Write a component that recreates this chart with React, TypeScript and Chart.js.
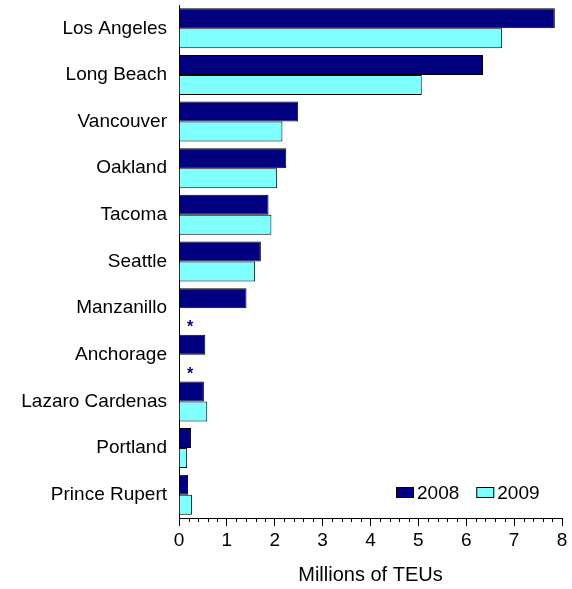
import React, { useEffect, useRef } from "react";
import { Chart, registerables } from "chart.js";

Chart.register(...registerables);

// Container traffic by port, millions of TEUs
const ports = [
  "Los Angeles",
  "Long Beach",
  "Vancouver",
  "Oakland",
  "Tacoma",
  "Seattle",
  "Manzanillo",
  "Anchorage",
  "Lazaro Cardenas",
  "Portland",
  "Prince Rupert",
];
const teu2008 = [7.85, 6.35, 2.49, 2.24, 1.87, 1.71, 1.41, 0.55, 0.52, 0.25, 0.19];
// null = no 2009 figure reported (marked with an asterisk)
const teu2009 = [6.75, 5.07, 2.16, 2.05, 1.93, 1.59, null, null, 0.59, 0.17, 0.27];
const seriesLabels = ["2008", "2009"];
const xTicks = [0, 1, 2, 3, 4, 5, 6, 7, 8];

const NAVY = "#000080";
const CYAN = "#80FFFF";
const FONT = "'Liberation Sans', Arial, sans-serif";

// short minor ticks between the labelled ones on the value axis
const minorTicks = {
  id: "minorTicks",
  afterDraw(chart: any) {
    const x = chart.scales.x;
    const ctx = chart.ctx;
    ctx.save();
    ctx.strokeStyle = "#000";
    ctx.lineWidth = 1;
    for (let i = 0; i <= 40; i++) {
      if (i % 5 === 0) continue;
      const px = Math.round(x.getPixelForValue(i / 5)) + 0.5;
      ctx.beginPath();
      ctx.moveTo(px, x.top);
      ctx.lineTo(px, x.top + 4);
      ctx.stroke();
    }
    ctx.restore();
  },
};

// asterisk where a series has no value
const missingMarks = {
  id: "missingMarks",
  afterDatasetsDraw(chart: any) {
    const ctx = chart.ctx;
    const x = chart.scales.x;
    const y = chart.scales.y;
    ctx.save();
    ctx.fillStyle = NAVY;
    ctx.font = `bold 16px ${FONT}`;
    ctx.textAlign = "center";
    ctx.textBaseline = "alphabetic";
    chart.data.datasets.forEach((ds: any, di: number) => {
      const meta = chart.getDatasetMeta(di);
      ds.data.forEach((v: any, i: number) => {
        if (v !== null) return;
        const el = meta.data[i];
        const cy = el && isFinite(el.y) ? el.y : y.getPixelForValue(i);
        ctx.fillText("*", x.getPixelForValue(0) + 11, cy + 14);
      });
    });
    ctx.restore();
  },
};

// legend drawn in the lower right of the plot area
const insideLegend = {
  id: "insideLegend",
  afterDraw(chart: any) {
    const ctx = chart.ctx;
    const area = chart.chartArea;
    ctx.save();
    ctx.font = `19px ${FONT}`;
    ctx.textBaseline = "alphabetic";
    ctx.textAlign = "left";
    let px = area.left + 217;
    const boxTop = area.bottom - 31;
    chart.data.datasets.forEach((ds: any) => {
      ctx.fillStyle = ds.backgroundColor;
      ctx.fillRect(px, boxTop, 18, 11);
      ctx.strokeStyle = "#000";
      ctx.lineWidth = 1;
      ctx.strokeRect(px + 0.5, boxTop + 0.5, 17, 10);
      ctx.fillStyle = "#000";
      ctx.fillText(ds.label, px + 21, boxTop + 12);
      px += 21 + ctx.measureText(ds.label).width + 17;
    });
    ctx.restore();
  },
};

export default function App() {
  const canvasRef = useRef<HTMLCanvasElement>(null);

  useEffect(() => {
    const canvas = canvasRef.current;
    if (!canvas) return;
    const chart = new Chart(canvas, {
      type: "bar",
      data: {
        labels: ports,
        datasets: [
          {
            label: seriesLabels[0],
            data: teu2008,
            backgroundColor: NAVY,
            borderColor: "#000",
            borderWidth: 1,
            categoryPercentage: 0.858,
            barPercentage: 1,
          },
          {
            label: seriesLabels[1],
            data: teu2009,
            backgroundColor: CYAN,
            borderColor: "#000",
            borderWidth: 1,
            categoryPercentage: 0.858,
            barPercentage: 1,
          },
        ],
      },
      options: {
        indexAxis: "y",
        responsive: false,
        animation: false,
        devicePixelRatio: 1,
        layout: { padding: { top: 5, right: 10, left: 0, bottom: 0 } },
        plugins: {
          legend: { display: false },
          tooltip: { enabled: false },
        },
        scales: {
          x: {
            min: 0,
            max: 8,
            afterBuildTicks(scale: any) {
              scale.ticks = xTicks.map((v) => ({ value: v }));
            },
            afterFit(scale: any) {
              scale.height = 71;
              scale.paddingLeft = 0;
              scale.paddingRight = 0;
            },
            ticks: {
              color: "#000",
              font: { family: FONT, size: 19 },
              padding: 3,
              maxRotation: 0,
            },
            grid: {
              display: true,
              drawOnChartArea: false,
              drawTicks: true,
              tickLength: 8,
              color: "#000",
            },
            border: { display: true, color: "#000", width: 1 },
            title: {
              display: true,
              text: "Millions of TEUs",
              color: "#000",
              font: { family: FONT, size: 20 },
              padding: { top: 0, bottom: 2 },
            },
          },
          y: {
            afterFit(scale: any) {
              scale.width = 179;
              scale.paddingTop = 0;
              scale.paddingBottom = 0;
            },
            ticks: {
              color: "#000",
              font: { family: FONT, size: 19 },
              padding: 12,
              autoSkip: false,
            },
            grid: { display: false, drawTicks: false },
            border: { display: true, color: "#000", width: 1 },
          },
        },
      },
      plugins: [minorTicks, missingMarks, insideLegend],
    });
    return () => chart.destroy();
  }, []);

  return (
    <div style={{ position: "absolute", left: 0, top: 0, width: 572, height: 589, background: "#fff" }}>
      <canvas ref={canvasRef} width={572} height={589} />
    </div>
  );
}
